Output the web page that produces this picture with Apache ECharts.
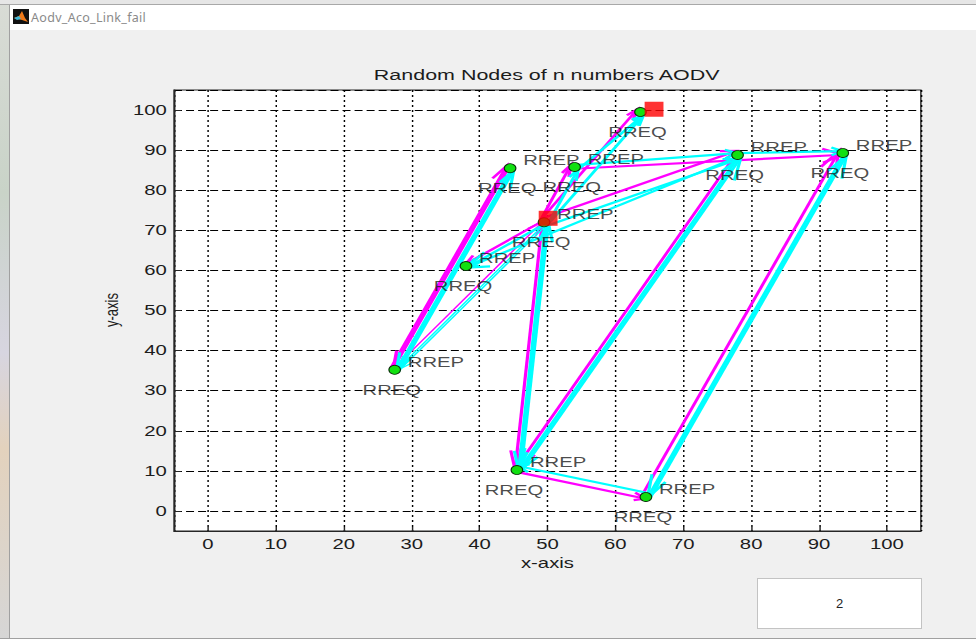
<!DOCTYPE html>
<html>
<head>
<meta charset="utf-8">
<script src="https://cdn.jsdelivr.net/npm/echarts@6/dist/echarts.min.js"></script>
<style>
  html, body { margin:0; padding:0; }
  body { width:976px; height:641px; overflow:hidden; background:#f0f0f0; position:relative; font-family:"Liberation Sans", Arial, sans-serif; }
  #leftStrip { position:absolute; left:0; top:0; width:9px; height:641px; background:linear-gradient(#d9dcd6,#c9d3c8 30%,#d7d5e0 55%,#e3d2bd 70%,#d6d6d6); border-right:1px solid #a0a0a0; }
  #topLine { position:absolute; left:0; top:0; width:976px; height:4px; background:#e6e6e6; border-bottom:1px solid #a8a8a8; }
  #titleBar { position:absolute; left:10px; top:5px; width:966px; height:25px; background:#ffffff; }
  #icon { position:absolute; left:13px; top:9px; width:16px; height:15px; background:#111; }
  #winTitle { position:absolute; left:31px; top:9px; font:12.5px "Noto Sans", "DejaVu Sans", sans-serif; color:#8a8a8a; letter-spacing:0.3px; }
  #bottomLine { position:absolute; left:0; top:638px; width:976px; height:3px; background:#ffffff; border-top:1px solid #a0a0a0; }
  #chart { position:absolute; left:0; top:0; width:673px; height:641px; transform:scaleX(1.4502); transform-origin:0 0; }
  #box { position:absolute; left:757px; top:578px; width:163px; height:49px; background:#fff; border:1px solid #c3c3c3; font:13px "Liberation Sans", Arial, sans-serif; color:#222; text-align:center; line-height:49px; }
</style>
</head>
<body>
<div id="chart"></div>
<div id="leftStrip"></div>
<div id="topLine"></div>
<div id="titleBar"></div>
<div id="icon"><svg width="16" height="15" viewBox="0 0 16 15"><polygon points="1,9 6,7 9,2 12,9 15,13 9,11" fill="#f07a1a"/><polygon points="1,9 6,7 8,10 4,11" fill="#3fb8d8"/></svg></div>
<div id="winTitle">Aodv_Aco_Link_fail</div>
<div id="bottomLine"></div>
<div id="box">2</div>
<script>
// ---- data ----
const chartTitle = 'Random Nodes of n numbers AODV';
const xName = 'x-axis';
const yName = 'y-axis';
const xTicks = [0, 10, 20, 30, 40, 50, 60, 70, 80, 90, 100];
const yTicks = [0, 10, 20, 30, 40, 50, 60, 70, 80, 90, 100];
// node positions (green circles)
const nodeX = [63.7, 44.5, 54.0, 78.0, 93.5, 49.5, 38.0, 27.5, 45.5, 64.5];
const nodeY = [99.5, 85.5, 85.8, 88.8, 89.3, 72.0, 61.1, 35.2, 10.2, 3.5];
// red square markers (source / destination)
const markX = [65.7, 50.1];
const markY = [100.2, 73.0];
// nodes that carry an RREP label (all carry RREQ)
const rrepNodes = [1, 2, 3, 4, 5, 6, 7, 8, 9];
// RREQ (magenta) and RREP (cyan) hops: [from, to]
const rreqEdges = [[5,0],[7,1],[1,7],[5,2],[5,6],[2,4],[5,3],[5,8],[3,8],[8,9],[9,4]];
const rreqThin  = [[7,5]];
const rrepEdges = [[5,0],[2,0],[1,7],[7,1],[5,2],[2,3],[3,4],[3,6],[5,3],[5,8],[8,5],[3,8],[8,3],[4,9],[9,4],[9,8],[5,6]];
const rrepThin  = [[5,7],[7,5]];

// ---- build ----
const S = 1.4502;
function edgeData(list) {
  // 5th value: +1 when drawn from lower to higher node index, -1 otherwise
  return list.map(e => [nodeX[e[0]], nodeY[e[0]], nodeX[e[1]], nodeY[e[1]], e[0] < e[1] ? 1 : -1]);
}
function arrowRender(color, width, laneFwd, laneRev) {
  return function (params, api) {
    const p1 = api.coord([api.value(0), api.value(1)]);
    const p2 = api.coord([api.value(2), api.value(3)]);
    const dir = api.value(4);
    const shift = dir > 0 ? laneFwd : -laneRev;
    // geometry in displayed (stretched) space
    const P1 = [p1[0]*S, p1[1]], P2 = [p2[0]*S, p2[1]];
    const dx = P2[0]-P1[0], dy = P2[1]-P1[1];
    const len = Math.hypot(dx, dy) || 1;
    const ux = dx/len, uy = dy/len;
    const nx = -uy*shift, ny = ux*shift;
    const A = [P1[0]+nx, P1[1]+ny], B = [P2[0]+nx, P2[1]+ny];
    const h = Math.max(12, Math.min(24, len*0.08));
    const ang = 0.33, c = Math.cos(ang), s = Math.sin(ang);
    const bx = -ux, by = -uy;
    const L = [B[0] + h*(bx*c - by*s), B[1] + h*(bx*s + by*c)];
    const R = [B[0] + h*(bx*c + by*s), B[1] + h*(-bx*s + by*c)];
    const un = p => [p[0]/S, p[1]];
    const a = un(A), b = un(B), l = un(L), r = un(R);
    return {
      type: 'group',
      children: [
        { type: 'line', shape: { x1: a[0], y1: a[1], x2: b[0], y2: b[1] },
          style: { stroke: color, lineWidth: width } },
        { type: 'polyline', shape: { points: [l, b, r] },
          style: { stroke: color, lineWidth: width, fill: null } }
      ]
    };
  };
}
function edgeSeries(list, color, width, laneFwd, laneRev) {
  return {
    type: 'custom', renderItem: arrowRender(color, width, laneFwd, laneRev),
    data: edgeData(list), encode: { x: [0, 2], y: [1, 3] },
    clip: true, silent: true, z: 3
  };
}
const nodeData = nodeX.map((x, i) => [x, nodeY[i]]);
const markData = markX.map((x, i) => [x, markY[i]]);
const rrepData = rrepNodes.map(i => [nodeX[i], nodeY[i]]);

const chart = echarts.init(document.getElementById('chart'), null, { renderer: 'svg' });
const font = '"Liberation Sans", Arial, sans-serif';
const txt = '#1c1c1c';
chart.setOption({
  animation: false,
  backgroundColor: 'transparent',
  grid: { left: 120, top: 90, width: 515, height: 441, show: true,
          backgroundColor: '#ffffff', borderColor: '#262626', borderWidth: 1 },
  xAxis: {
    type: 'value', min: -5, max: 105, splitNumber: 11,
    name: xName, nameLocation: 'middle', nameGap: 21,
    nameTextStyle: { fontFamily: font, fontSize: 14, color: txt, verticalAlign: 'top' },
    axisLine: { show: true, onZero: false, lineStyle: { color: '#262626', width: 1 } },
    axisTick: { show: true, inside: true, length: 4, lineStyle: { color: '#262626' } },
    axisLabel: { showMinLabel: false, showMaxLabel: false, margin: 6,
      fontFamily: font, fontSize: 14, color: txt,
      formatter: v => (xTicks.indexOf(v) >= 0 ? String(v) : '') },
    splitLine: { show: true, lineStyle: { color: '#000', width: 1, type: [2, 3] } }
  },
  yAxis: {
    type: 'value', min: -5, max: 105, splitNumber: 11,
    axisLine: { show: true, onZero: false, lineStyle: { color: '#262626', width: 1 } },
    axisTick: { show: true, inside: true, length: 5, lineStyle: { color: '#262626' } },
    axisLabel: { showMinLabel: false, showMaxLabel: false, margin: 5,
      fontFamily: font, fontSize: 14, color: txt,
      formatter: v => (yTicks.indexOf(v) >= 0 ? String(v) : '') },
    splitLine: { show: true, lineStyle: { color: '#000', width: 1, type: [5.5, 2.8] } }
  },
  graphic: [
    { type: 'text', x: 377, y: 75, style: { text: chartTitle, font: '14.8px ' + font,
      fill: txt, textAlign: 'center', textVerticalAlign: 'middle' } },
    { type: 'text', x: 76.5, y: 310, rotation: Math.PI / 2, style: { text: yName,
      font: '13px ' + font, fill: txt, textAlign: 'center', textVerticalAlign: 'middle' } }
  ],
  series: [
    edgeSeries(rreqEdges, '#ff00ff', 2.2, 1.8, 4.2),
    edgeSeries(rreqThin, '#ff00ff', 1.2, 1.5, 1.5),
    edgeSeries(rrepEdges, '#00ffff', 2.2, -1.8, -4.2),
    edgeSeries(rrepThin, '#00ffff', 1.2, -1.5, -3.5),
    { type: 'scatter', data: nodeData, symbol: 'circle', symbolSize: [8, 9], z: 4,
      itemStyle: { color: '#11e011', borderColor: '#0a300a', borderWidth: 0.8, opacity: 1 }, silent: true },
    { type: 'scatter', data: markData, symbol: 'rect', symbolSize: [13, 15], z: 4.5,
      itemStyle: { color: '#ff0000' }, silent: true },
    { type: 'scatter', data: nodeData, symbolSize: 0, z: 5, silent: true,
      label: { show: true, position: 'inside', align: 'center', verticalAlign: 'middle',
        offset: [-2, 20], formatter: 'RREQ', fontFamily: font, fontSize: 14, color: txt } },
    { type: 'scatter', data: rrepData, symbolSize: 0, z: 5, silent: true,
      label: { show: true, position: 'inside', align: 'left', verticalAlign: 'middle',
        offset: [9, -8], formatter: 'RREP', fontFamily: font, fontSize: 14, color: txt } }
  ]
});
</script>
</body>
</html>
